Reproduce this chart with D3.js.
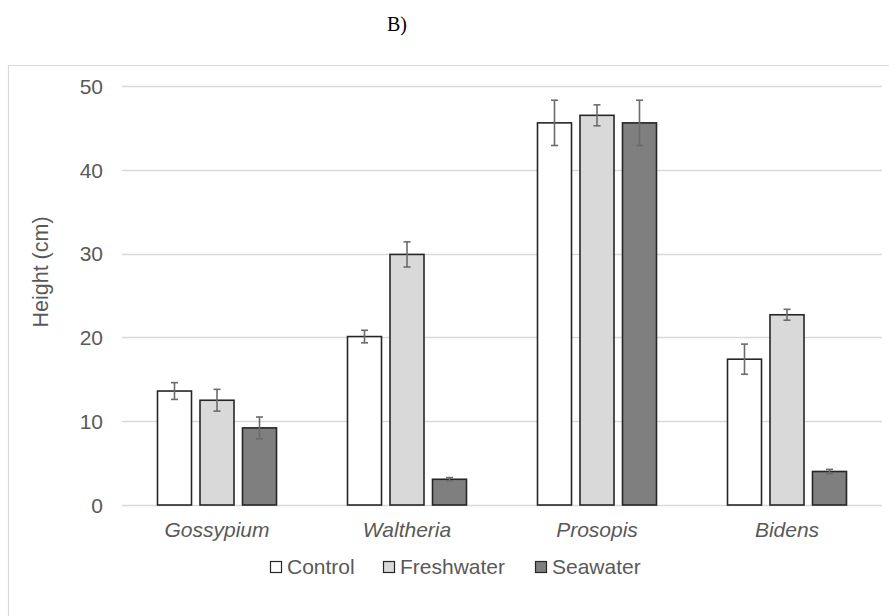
<!DOCTYPE html>
<html>
<head>
<meta charset="utf-8">
<script src="https://cdn.jsdelivr.net/npm/d3@7/dist/d3.min.js"></script>
<style>
  html, body { margin: 0; padding: 0; background: #fff; }
  svg { display: block; }
</style>
</head>
<body>
<svg id="chart" width="889" height="616"></svg>
<script>
// Plant height by species and watering treatment (mean ± error)
const species = ["Gossypium", "Waltheria", "Prosopis", "Bidens"];
const treatments = ["Control", "Freshwater", "Seawater"];
const controlMean    = [13.6, 20.1, 45.6, 17.4];
const controlErr     = [1.0, 0.75, 2.7, 1.8];
const freshwaterMean = [12.5, 29.9, 46.5, 22.7];
const freshwaterErr  = [1.3, 1.5, 1.25, 0.65];
const seawaterMean   = [9.2, 3.07, 45.6, 4.0];
const seawaterErr    = [1.3, 0.2, 2.7, 0.25];
const yTicks = [0, 10, 20, 30, 40, 50];

const fills = ["#ffffff", "#d9d9d9", "#7f7f7f"];
const means = [controlMean, freshwaterMean, seawaterMean];
const errs = [controlErr, freshwaterErr, seawaterErr];

const rows = [];
species.forEach((s, i) => {
  treatments.forEach((t, j) => {
    rows.push({ species: s, treatment: t, value: means[j][i], err: errs[j][i] });
  });
});

const svg = d3.select("#chart");
const font = "Liberation Sans, Arial, sans-serif";
const textColor = "#595959";
const fs = 21;

// Chart frame (light grey border)
svg.append("path")
  .attr("d", "M8.5,640 L8.5,65.5 L900,65.5")
  .attr("fill", "none")
  .attr("stroke", "#d9d9d9")
  .attr("stroke-width", 1.2);

// Panel label
svg.append("text")
  .attr("x", 397).attr("y", 31)
  .attr("text-anchor", "middle")
  .attr("font-family", "Liberation Serif, Times New Roman, serif")
  .attr("font-size", 20)
  .attr("fill", "#000")
  .text("B)");

const x0 = d3.scaleBand().domain(species).range([122, 882]).paddingInner(0).paddingOuter(0);
const barW = 34, gap = 8.5;
const x1 = d3.scaleOrdinal().domain(treatments)
  .range(treatments.map((t, j) => (j - 1) * (barW + gap) - barW / 2));
const y = d3.scaleLinear().domain([0, 50]).range([505, 86]);

// Gridlines
svg.append("g")
  .selectAll("line")
  .data(yTicks)
  .join("line")
  .attr("x1", 122).attr("x2", 882)
  .attr("y1", d => Math.round(y(d)) + 0.5)
  .attr("y2", d => Math.round(y(d)) + 0.5)
  .attr("stroke", "#d9d9d9")
  .attr("stroke-width", 1.5);

// Y axis tick labels
const yAxis = d3.axisLeft(y).tickValues(yTicks).tickSize(0).tickPadding(0);
const yg = svg.append("g").attr("transform", "translate(103,0)").call(yAxis);
yg.select(".domain").remove();
yg.selectAll("text")
  .attr("font-family", font)
  .attr("font-size", fs)
  .attr("fill", textColor)
  .attr("dy", "0.35em");

// Y axis title
svg.append("text")
  .attr("transform", "translate(48,272) rotate(-90)")
  .attr("text-anchor", "middle")
  .attr("font-family", font)
  .attr("font-size", 21.5)
  .attr("fill", textColor)
  .text("Height (cm)");

// Bars
const bars = svg.append("g");
bars.selectAll("rect")
  .data(rows)
  .join("rect")
  .attr("x", d => x0(d.species) + x0.bandwidth() / 2 + x1(d.treatment))
  .attr("y", d => y(d.value))
  .attr("width", barW)
  .attr("height", d => y(0) - y(d.value))
  .attr("fill", d => fills[treatments.indexOf(d.treatment)])
  .attr("stroke", "#262626")
  .attr("stroke-width", 1.6);

// Error bars
const eg = svg.append("g").attr("stroke", "#6b6b6b").attr("stroke-width", 1.6);
rows.forEach(d => {
  const cx = x0(d.species) + x0.bandwidth() / 2 + x1(d.treatment) + barW / 2;
  const top = y(d.value + d.err), bot = y(d.value - d.err);
  eg.append("line").attr("x1", cx).attr("x2", cx).attr("y1", top).attr("y2", bot);
  eg.append("line").attr("x1", cx - 3.5).attr("x2", cx + 3.5).attr("y1", top).attr("y2", top);
  eg.append("line").attr("x1", cx - 3.5).attr("x2", cx + 3.5).attr("y1", bot).attr("y2", bot);
});

// Category labels
const xAxis = d3.axisBottom(x0).tickSize(0).tickPadding(0);
const xg = svg.append("g").attr("transform", "translate(0,530)").call(xAxis);
xg.select(".domain").remove();
xg.selectAll("text")
  .attr("font-family", font)
  .attr("font-size", fs)
  .attr("font-style", "italic")
  .attr("fill", textColor)
  .attr("dy", "0.35em")
  .attr("y", 0);

// Legend
const legendX = [270, 383, 535];
const lg = svg.append("g");
treatments.forEach((t, j) => {
  lg.append("rect")
    .attr("x", legendX[j] + 0.5).attr("y", 561.5)
    .attr("width", 11).attr("height", 11)
    .attr("fill", fills[j])
    .attr("stroke", "#262626")
    .attr("stroke-width", 1.2);
  lg.append("text")
    .attr("x", legendX[j] + 17).attr("y", 567)
    .attr("dy", "0.35em")
    .attr("font-family", font)
    .attr("font-size", fs)
    .attr("fill", textColor)
    .text(t);
});
</script>
</body>
</html>
